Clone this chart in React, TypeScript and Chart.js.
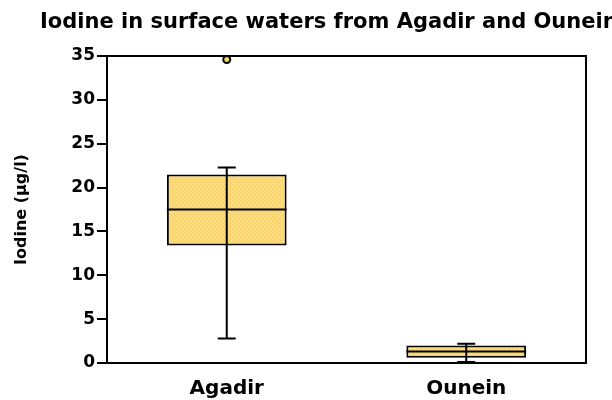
import React, { useEffect, useRef } from 'react';
import { Chart, registerables } from 'chart.js';

Chart.register(...registerables);

const categories = ['Agadir', 'Ounein'];
const whiskerLow = [2.8, 0.1];
const quartile1 = [13.4, 0.6];
const medians = [17.5, 1.3];
const quartile3 = [21.5, 2.0];
const whiskerHigh = [22.3, 2.2];
const outliers: (number | null)[] = [34.6, null];
const yMin = 0;
const yMax = 35;
const yStep = 5;
const chartTitle = 'Iodine in surface waters from Agadir and Ounein';
const yAxisTitle = 'Iodine (µg/l)';

const FONT = '"DejaVu Sans", sans-serif';

function makePattern(): CanvasPattern | string {
  const c = document.createElement('canvas');
  c.width = 4;
  c.height = 4;
  const g = c.getContext('2d');
  if (!g) return '#FADB72';
  g.fillStyle = '#FBDF7C';
  g.fillRect(0, 0, 4, 4);
  g.fillStyle = '#EFC462';
  g.fillRect(0, 0, 1, 1);
  g.fillRect(2, 2, 1, 1);
  g.fillStyle = '#F6D16C';
  g.fillRect(1, 1, 1, 1);
  g.fillRect(3, 3, 1, 1);
  const p = g.createPattern(c, 'repeat');
  return p || '#FADB72';
}

const boxPlugin = {
  id: 'boxExtras',
  afterDatasetsDraw(chart: any) {
    const { ctx } = chart;
    const x = chart.scales.x;
    const y = chart.scales.y;
    const meta = chart.getDatasetMeta(0);
    ctx.save();
    ctx.strokeStyle = '#000';
    ctx.lineWidth = 2;
    categories.forEach((_, i) => {
      const bar = meta.data[i];
      const cx = x.getPixelForValue(i);
      const half = bar.width / 2;
      const yLo = y.getPixelForValue(whiskerLow[i]);
      const yHi = y.getPixelForValue(whiskerHigh[i]);
      const yMed = y.getPixelForValue(medians[i]);
      ctx.beginPath();
      ctx.moveTo(cx, yHi);
      ctx.lineTo(cx, yLo);
      ctx.moveTo(cx - 9, yHi);
      ctx.lineTo(cx + 9, yHi);
      ctx.moveTo(cx - 9, yLo);
      ctx.lineTo(cx + 9, yLo);
      ctx.moveTo(cx - half, yMed);
      ctx.lineTo(cx + half, yMed);
      ctx.stroke();
    });
    ctx.restore();
  },
  afterDraw(chart: any) {
    const { ctx, chartArea } = chart;
    ctx.save();
    ctx.strokeStyle = '#000';
    ctx.lineWidth = 2;
    ctx.strokeRect(chartArea.left, chartArea.top, chartArea.right - chartArea.left, chartArea.bottom - chartArea.top);
    ctx.fillStyle = '#000';
    ctx.font = `bold 21px ${FONT}`;
    ctx.textBaseline = 'alphabetic';
    ctx.textAlign = 'left';
    ctx.fillText(chartTitle, 40, 28);
    ctx.restore();
  },
};

export default function App() {
  const ref = useRef<HTMLCanvasElement | null>(null);

  useEffect(() => {
    if (!ref.current) return;
    const fill = makePattern();
    const chart = new Chart(ref.current, {
      type: 'bar',
      data: {
        labels: categories,
        datasets: [
          {
            type: 'bar',
            data: categories.map((_, i) => [quartile1[i], quartile3[i]]) as any,
            backgroundColor: fill as any,
            borderColor: '#000',
            borderWidth: 2,
            borderSkipped: false,
            categoryPercentage: 1,
            barPercentage: 0.5,
          },
          {
            type: 'line',
            data: outliers as any,
            showLine: false,
            pointRadius: 3.5,
            pointBackgroundColor: '#F3D45A',
            pointBorderColor: '#000',
            pointBorderWidth: 2,
            clip: false as any,
          },
        ],
      },
      options: {
        responsive: false,
        animation: false,
        devicePixelRatio: 1,
        layout: { padding: { left: 4, right: 26, top: 56, bottom: 0 } },
        plugins: {
          legend: { display: false },
          tooltip: { enabled: false },
          title: { display: false },
        },
        scales: {
          x: {
            grid: { display: false, drawTicks: false },
            border: { display: false },
            ticks: {
              color: '#000',
              padding: 14,
              font: { family: FONT, size: 20, weight: 'bold' },
            },
            afterFit(scale: any) {
              scale.height = 37;
            },
          },
          y: {
            min: yMin,
            max: yMax,
            grid: {
              display: true,
              drawOnChartArea: false,
              drawTicks: true,
              tickLength: 10,
              color: '#000',
              lineWidth: 2,
            },
            border: { display: true, color: '#000', width: 2 },
            ticks: {
              stepSize: yStep,
              color: '#000',
              padding: 2,
              font: { family: FONT, size: 17, weight: 'bold' },
            },
            title: {
              display: true,
              text: yAxisTitle,
              color: '#000',
              padding: { top: 8, bottom: 0 },
              font: { family: FONT, size: 16, weight: 'bold' },
            },
            afterFit(scale: any) {
              scale.width = 103;
            },
          },
        },
      },
      plugins: [boxPlugin],
    });
    return () => chart.destroy();
  }, []);

  return (
    <div style={{ position: 'absolute', left: 0, top: 0, width: 612, height: 400, background: '#fff' }}>
      <canvas ref={ref} width={612} height={400} style={{ display: 'block' }} />
    </div>
  );
}
